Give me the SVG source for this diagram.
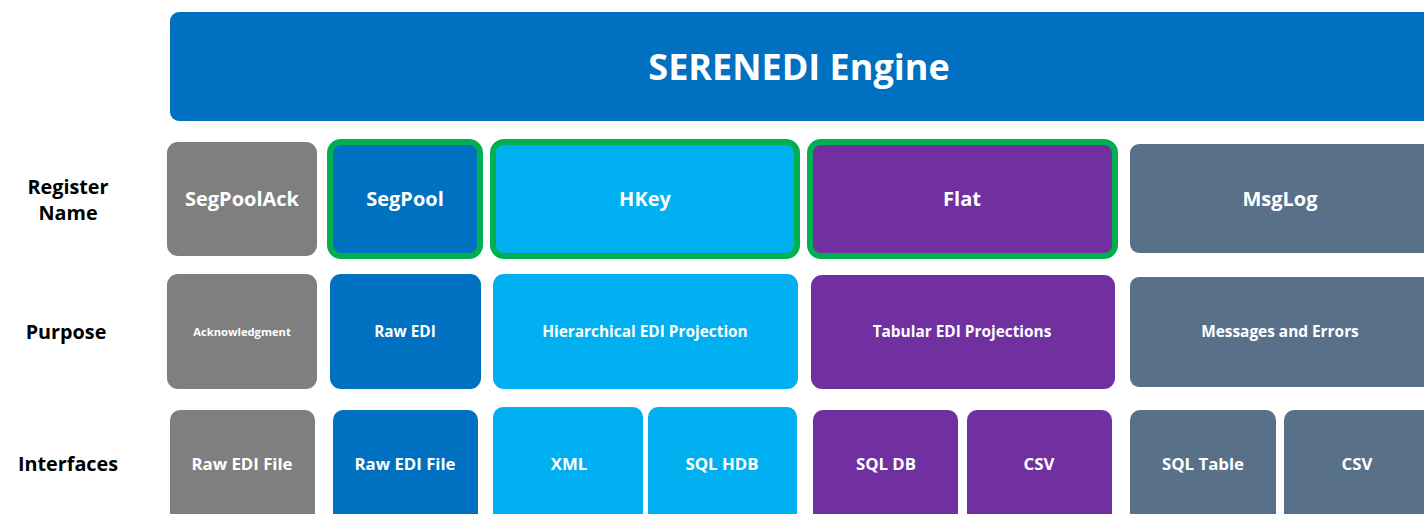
<svg xmlns="http://www.w3.org/2000/svg" width="1424" height="514" viewBox="0 0 1424 514">
<style>
text{font-family:"Open Sans","Liberation Sans",sans-serif;font-weight:700;fill:#fff;text-anchor:middle;dominant-baseline:central}
.lbl{fill:#000;font-size:19.8px}
.title{font-size:36px}
.reg{font-size:20px}
.pur{font-size:15.4px}
.ack{font-size:11.2px}
.itf{font-size:16.8px}
.gray{fill:#7F7F7F}
.blue{fill:#0070C0}
.lblue{fill:#00B0F0}
.purple{fill:#7030A0}
.slate{fill:#587189}
.sel{stroke:#00B050;stroke-width:6}
</style>
<g id="row-labels">
<text class="lbl" x="68" y="186">Register</text>
<text class="lbl" x="68" y="212">Name</text>
<text class="lbl" x="66" y="331">Purpose</text>
<text class="lbl" x="68" y="463">Interfaces</text>
</g>
<g id="engine">
<rect class="blue" x="170" y="12" width="1270" height="109" rx="9"/>
<text class="title" x="799" y="66">SERENEDI Engine</text>
</g>
<g id="reg-segpoolack">
<rect class="gray" x="167" y="142" width="150" height="114" rx="11"/>
<text class="reg" x="242" y="198">SegPoolAck</text>
</g>
<g id="reg-segpool">
<rect class="blue sel" x="330" y="142" width="150" height="114" rx="11"/>
<text class="reg" x="405" y="198">SegPool</text>
</g>
<g id="reg-hkey">
<rect class="lblue sel" x="493" y="142" width="304" height="114" rx="11"/>
<text class="reg" x="645" y="198">HKey</text>
</g>
<g id="reg-flat">
<rect class="purple sel" x="810" y="142" width="305" height="114" rx="11"/>
<text class="reg" x="962" y="198">Flat</text>
</g>
<g id="reg-msglog">
<rect class="slate" x="1130" y="144" width="310" height="109" rx="9"/>
<text class="reg" x="1280" y="198">MsgLog</text>
</g>
<g id="pur-ack">
<rect class="gray" x="167" y="274" width="150" height="115" rx="11"/>
<text class="ack" x="242" y="331">Acknowledgment</text>
</g>
<g id="pur-raw">
<rect class="blue" x="330" y="274" width="151" height="115" rx="11"/>
<text class="pur" x="405" y="331">Raw EDI</text>
</g>
<g id="pur-hier">
<rect class="lblue" x="493" y="274" width="305" height="115" rx="11"/>
<text class="pur" x="645" y="331">Hierarchical EDI Projection</text>
</g>
<g id="pur-tab">
<rect class="purple" x="811" y="275" width="304" height="114" rx="11"/>
<text class="pur" x="962" y="331">Tabular EDI Projections</text>
</g>
<g id="pur-msg">
<rect class="slate" x="1130" y="277" width="310" height="110" rx="9"/>
<text class="pur" x="1280" y="331">Messages and Errors</text>
</g>
<g id="if-raw1">
<rect class="gray" x="170" y="410" width="145" height="120" rx="10"/>
<text class="itf" x="242" y="463">Raw EDI File</text>
</g>
<g id="if-raw2">
<rect class="blue" x="333" y="410" width="145" height="120" rx="10"/>
<text class="itf" x="405" y="463">Raw EDI File</text>
</g>
<g id="if-xml">
<rect class="lblue" x="493" y="407" width="150" height="123" rx="10"/>
<text class="itf" x="569" y="463">XML</text>
</g>
<g id="if-sqlhdb">
<rect class="lblue" x="648" y="407" width="149" height="123" rx="10"/>
<text class="itf" x="722" y="463">SQL HDB</text>
</g>
<g id="if-sqldb">
<rect class="purple" x="813" y="410" width="145" height="120" rx="10"/>
<text class="itf" x="886" y="463">SQL DB</text>
</g>
<g id="if-csv1">
<rect class="purple" x="967" y="410" width="145" height="120" rx="10"/>
<text class="itf" x="1039" y="463">CSV</text>
</g>
<g id="if-sqltable">
<rect class="slate" x="1130" y="410" width="146" height="120" rx="10"/>
<text class="itf" x="1203" y="463">SQL Table</text>
</g>
<g id="if-csv2">
<rect class="slate" x="1284" y="410" width="150" height="120" rx="10"/>
<text class="itf" x="1357" y="463">CSV</text>
</g>
<g id="connectors"/>
</svg>
